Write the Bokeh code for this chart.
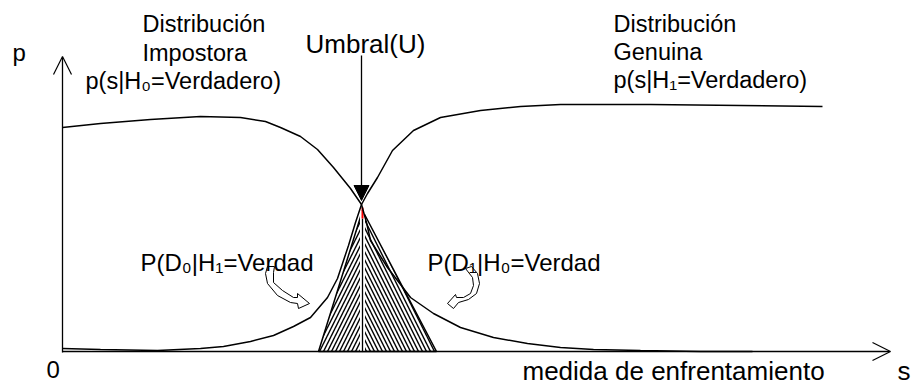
from bokeh.plotting import figure
from bokeh.models import Range1d, ColumnDataSource, Arrow, OpenHead, NormalHead
from bokeh.core.properties import value
from bokeh.embed import file_html
from bokeh.resources import INLINE

# ---- data (s = matching score, p = density) ----
impostor_s = [0, 38, 88, 138, 178, 203, 218, 238, 255, 271, 288, 299, 304, 308, 325, 348, 371, 398, 431, 465, 498, 531, 578, 638, 690]
impostor_p = [224, 228, 232, 235, 234, 230, 224, 215, 202, 184, 163, 147, 129, 111, 84, 54, 38, 24, 14, 8, 4, 2, 1, 0, 0]

genuine_s = [0, 38, 95, 138, 161, 188, 211, 231, 248, 265, 275, 286, 293, 299, 305, 315, 330, 351, 378, 418, 458, 498, 588, 678, 760]
genuine_p = [3, 2, 1, 3, 5, 10, 16, 25, 34, 54, 73, 106, 129, 147, 158, 174, 201, 221, 234, 241, 245, 247, 247, 246, 245]

threshold_s = 300
threshold_apex_p = 141
err_left_s = [256, threshold_s, threshold_s]
err_left_p = [0, threshold_apex_p, 0]
err_right_s = [threshold_s, threshold_s, 374]
err_right_p = [threshold_apex_p, 0, 0]

s_axis_end = 828
p_axis_end = 295
umbral_top = 296
umbral_tip = 151

curl_left_s = [205, 203, 205, 215, 228, 235, 236, 247, 235, 235, 231, 220, 211, 211, 212]
curl_left_p = [85, 78, 68, 56, 49, 48, 43, 48, 58, 54, 54, 61, 69, 79, 85]
curl_right_s = [403, 410, 411, 408, 401, 394, 393, 385, 391, 396, 406, 414, 417, 415, 409]
curl_right_p = [83, 74, 66, 58, 54, 54, 57, 48, 43, 49, 52, 58, 68, 78, 85]

# labels: text, left x, baseline p, font size (px)
left_texts = ["p", "Distribución", "Impostora", "p(s|H\u2080=Verdadero)", "Umbral(U)",
              "Distribución", "Genuina", "p(s|H\u2081=Verdadero)",
              "P(D\u2081|H\u2080=Verdad", "0", "medida de enfrentamiento", "s"]
left_x = [-50, 80, 80, 23, 243, 551, 551, 551, 365, -16, 460, 835]
left_base = [291, 319, 290, 262, 298, 319, 291, 263, 81, -26, -29, -29]
left_size = [24, 23.5, 23.5, 23.5, 26, 23.5, 23.5, 23.5, 24, 24, 26, 26]

right_texts = ["P(D\u2080|H\u2081=Verdad"]
right_x = [251]
right_base = [81]
right_size = [24]

FONT = value("Liberation Sans")
BASE_SHIFT = 0.35  # em; compensates the renderer's baseline placement

p = figure(width=916, height=387, x_range=Range1d(-62, 854), y_range=Range1d(-36, 351),
           output_backend="svg", toolbar_location=None, min_border=0)
p.axis.visible = False
p.grid.visible = False
p.outline_line_color = None
p.background_fill_color = "white"

# error regions (hatched triangle)
p.patch(err_left_s, err_left_p, fill_color="white", line_color="black", line_width=1.5,
        hatch_pattern="/", hatch_color="black", hatch_scale=8, hatch_weight=1.4)
p.patch(err_right_s, err_right_p, fill_color="white", line_color="black", line_width=1.5,
        hatch_pattern="\\", hatch_color="black", hatch_scale=8, hatch_weight=1.4)
p.line([threshold_s, threshold_s], [0, threshold_apex_p], line_color="white", line_width=5)
p.line([threshold_s, threshold_s], [0, threshold_apex_p - 8], line_color="black", line_width=1.3)
p.line([threshold_s, threshold_s], [threshold_apex_p - 8, threshold_apex_p + 3], line_color="red", line_width=2)

# distributions
p.line(impostor_s, impostor_p, line_color="black", line_width=1.5)
p.line(genuine_s, genuine_p, line_color="black", line_width=1.5)

# axes as arrows
p.add_layout(Arrow(x_start=0, y_start=-1, x_end=0, y_end=p_axis_end,
                   end=OpenHead(size=18, line_width=1.2, line_color="black"),
                   line_width=1.3, line_color="black"))
p.add_layout(Arrow(x_start=0, y_start=0, x_end=s_axis_end, y_end=0,
                   end=OpenHead(size=18, line_width=1.2, line_color="black"),
                   line_width=1.3, line_color="black"))
# threshold arrow
p.add_layout(Arrow(x_start=threshold_s - 1, y_start=umbral_top, x_end=threshold_s - 1, y_end=umbral_tip,
                   end=NormalHead(size=15, fill_color="black", line_color="black"),
                   line_width=1.3, line_color="black"))

# texts
def text_layer(texts, xs, bases, sizes, align):
    src = ColumnDataSource(dict(
        x=xs,
        y=[b + BASE_SHIFT * s for b, s in zip(bases, sizes)],
        t=texts,
        fs=["%gpx" % s for s in sizes],
    ))
    p.text(x="x", y="y", text="t", source=src, text_font=FONT, text_font_size="fs",
           text_align=align, text_baseline="alphabetic", text_color="black")

text_layer(left_texts, left_x, left_base, left_size, "left")
text_layer(right_texts, right_x, right_base, right_size, "right")

# curved pointer arrows
p.patch(curl_left_s, curl_left_p, fill_color=None, line_color="black", line_width=1)
p.patch(curl_right_s, curl_right_p, fill_color=None, line_color="black", line_width=1)

open("out.html", "w").write(file_html(p, INLINE))
